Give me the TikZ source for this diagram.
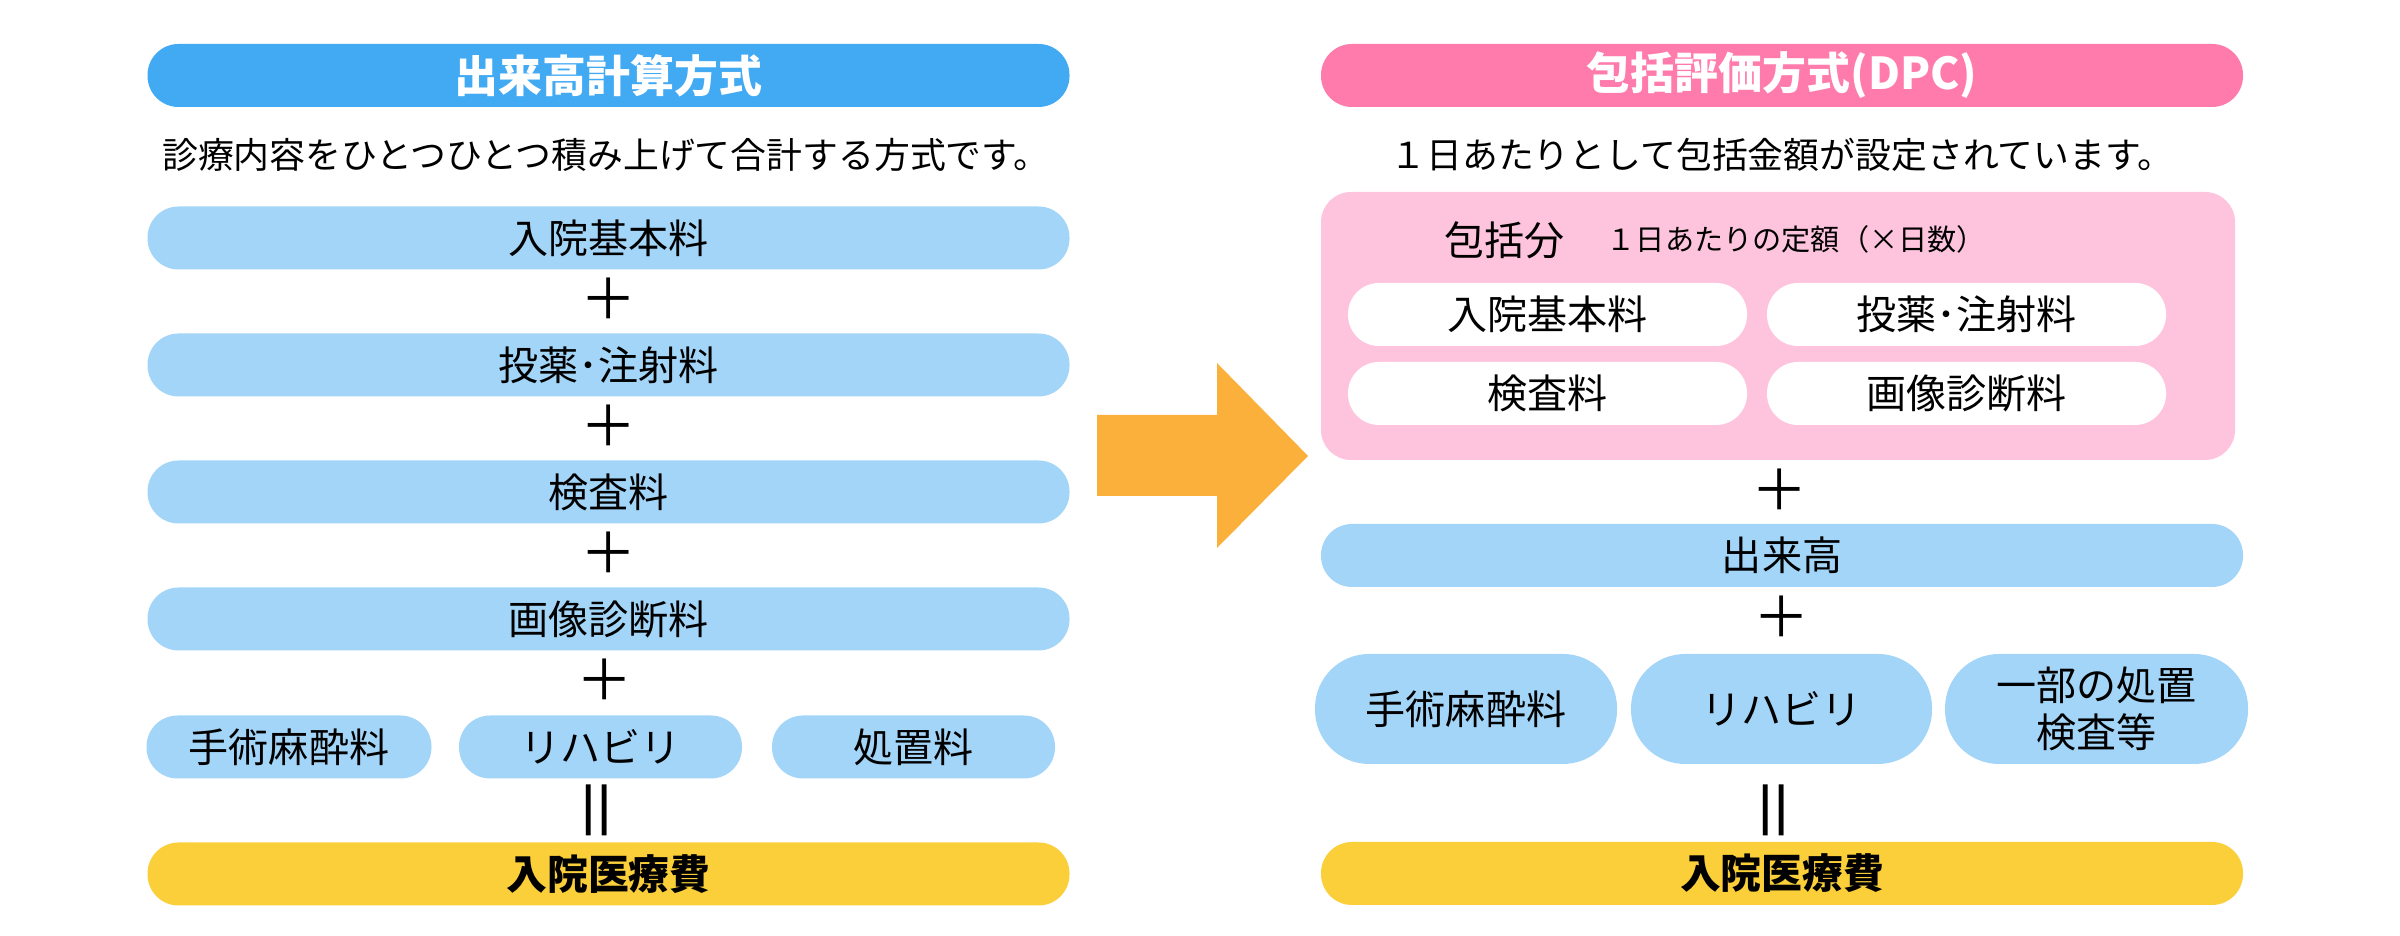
\documentclass[tikz,border=0pt]{standalone}
\usepackage{fontspec}
\setmainfont{Noto Sans CJK JP}
\usetikzlibrary{calc,positioning}
\definecolor{headblue}{HTML}{42A9F3}
\definecolor{itemblue}{HTML}{A3D5F8}
\definecolor{headpink}{HTML}{FF7BAC}
\definecolor{packpink}{HTML}{FFC4DD}
\definecolor{totalyel}{HTML}{FBCF3A}
\definecolor{arroworange}{HTML}{FBB03B}
\tikzset{bar/.style={minimum width=9.22cm, minimum height=6.3mm, rounded corners=3.1mm, inner sep=0pt},
  head/.style={bar, text=white, font=\fontsize{12.5}{14}\selectfont\bfseries},
  item/.style={bar, fill=itemblue},
  chip/.style={fill=white, minimum width=3.99cm, minimum height=6.3mm, rounded corners=3.1mm, inner sep=0pt},
  blob/.style={fill=itemblue, minimum height=11mm, rounded corners=5.4mm, inner sep=0pt, align=center},
  total/.style={bar, fill=totalyel, font=\fontsize{11.6}{14}\selectfont\bfseries},
  note/.style={inner sep=0pt, font=\fontsize{10.2}{12}\selectfont},
  plus/.style={inner sep=0pt, font=\fontsize{16}{16}\selectfont},
  equal/.style={inner sep=0pt, rotate=90, font=\fontsize{20}{20}\selectfont}}

\begin{document}
\begin{tikzpicture}[font=\fontsize{11.4}{13.4}\selectfont]
  \useasboundingbox (0,0) rectangle (24,9.36);
  % left column: fee for service
  \node[head, fill=headblue] (hdl) at (6.085,8.605) {出来高計算方式};
  \node[note] (subl) at (6.06,7.81) {診療内容をひとつひとつ積み上げて合計する方式です。};
  \node[item] (l1) at (6.085,6.98) {入院基本料};
  \node[item] (l2) at (6.085,5.71) {投薬･注射料};
  \node[item] (l3) at (6.085,4.44) {検査料};
  \node[item] (l4) at (6.085,3.17) {画像診断料};
  \node[item, minimum width=2.85cm] (l5a) at (2.89,1.89) {手術麻酔料};
  \node[item, minimum width=2.83cm] (l5b) at (6.005,1.89) {リハビリ};
  \node[item, minimum width=2.83cm] (l5c) at (9.135,1.89) {処置料};
  \node[total] (totl) at (6.085,0.62) {入院医療費};
  \foreach \a/\b in {l1/l2,l2/l3,l3/l4,l4/l5b}
    \node[plus] (p\a) at ($(\a.south)!0.45!(\b.north)$) {＋};
  \node[equal] (eql) at ($(l5b.south)!0.5!(totl.north)$) {＝};
  % big arrow between the two columns
  \fill[arroworange] (10.97,5.21) -- (12.17,5.21) -- (12.17,5.73) -- (13.08,4.80)
    -- (12.17,3.88) -- (12.17,4.40) -- (10.97,4.40) -- cycle;
  % right column: DPC
  \node[head, fill=headpink] (hdr) at (17.82,8.605) {包括評価方式(DPC)};
  \node[note] (subr) at (17.82,7.81) {１日あたりとして包括金額が設定されています。};
  \node[fill=packpink, minimum width=9.14cm, minimum height=2.68cm, rounded corners=3mm] (pack) at (17.78,6.10) {};
  \node[inner sep=0pt, anchor=west] (packt) at (14.44,6.96) {包括分};
  \node[inner sep=0pt, anchor=west, font=\fontsize{8.3}{10}\selectfont] (packn) at (16.06,6.965) {１日あたりの定額（×日数）};
  \node[chip] (r1) at (15.475,6.215) {入院基本料};
  \node[chip] (r2) at (19.665,6.215) {投薬･注射料};
  \node[chip] (r3) at (15.475,5.425) {検査料};
  \node[chip] (r4) at (19.665,5.425) {画像診断料};
  \node[item] (r5) at (17.82,3.805) {出来高};
  \node[blob, minimum width=3.02cm] (r6a) at (14.66,2.27) {手術麻酔料};
  \node[blob, minimum width=3.01cm] (r6b) at (17.815,2.27) {リハビリ};
  \node[blob, minimum width=3.03cm] (r6c) at (20.965,2.27) {一部の処置\\検査等};
  \node[total] (totr) at (17.82,0.625) {入院医療費};
  \node[plus] (ppack) at ($(pack.south)!0.47!(r5.north)$) {＋};
  \node[plus] (pr5) at ($(r5.south)!0.45!(r6b.north)$) {＋};
  \node[equal] (eqr) at ($(r6b.south)!0.6!(totr.north)$) {＝};
\end{tikzpicture}
\end{document}
